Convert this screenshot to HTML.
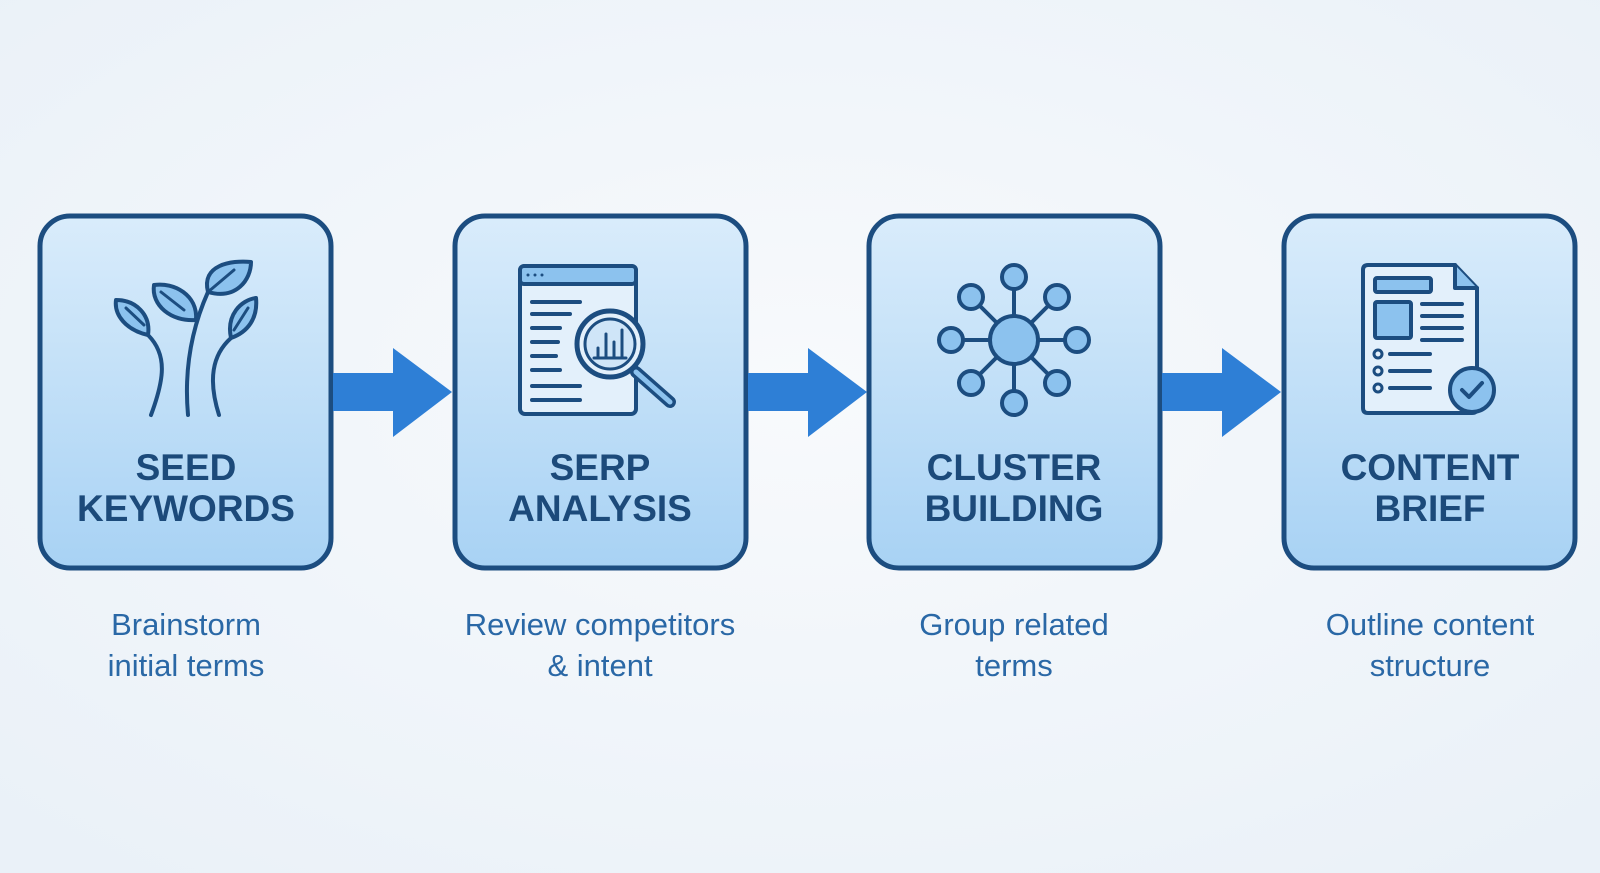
<!DOCTYPE html>
<html><head><meta charset="utf-8"><style>
html,body{margin:0;padding:0;width:1600px;height:873px;overflow:hidden;background:#f1f5fa}
svg{display:block}
text{font-family:"Liberation Sans",sans-serif}
</style></head><body>
<svg width="1600" height="873" viewBox="0 0 1600 873">
<defs>
<linearGradient id="g" x1="0" y1="0" x2="0" y2="1">
<stop offset="0" stop-color="#d9ecfb"/><stop offset="1" stop-color="#a8d2f4"/></linearGradient>
<radialGradient id="bg" cx="0.5" cy="0.45" r="0.7"><stop offset="0" stop-color="#f8fafc"/><stop offset="1" stop-color="#eaf1f8"/></radialGradient>
</defs>
<rect width="1600" height="873" fill="url(#bg)"/>
<g stroke="#1c4d80" stroke-width="5" fill="url(#g)">
<rect x="40" y="216" width="291" height="352" rx="30"/>
<rect x="455" y="216" width="291" height="352" rx="30"/>
<rect x="869" y="216" width="291" height="352" rx="30"/>
<rect x="1284" y="216" width="291" height="352" rx="30"/>
</g>
<g fill="#2e7fd6">
<path d="M333,373 H393 V348 L452,392 L393,437 V411 H333Z"/>
<path d="M748,373 H808 V348 L867,392 L808,437 V411 H748Z"/>
<path d="M1162,373 H1222 V348 L1281,392 L1222,437 V411 H1162Z"/>
</g>
<g stroke="#1c4d80" stroke-width="4" fill="#8cc2ee" stroke-linecap="round" stroke-linejoin="round">
<!-- plant -->
<g transform="translate(186,340)">
<path d="M2,75 C-2,30 5,-10 22,-48" fill="none"/>
<path d="M-35,75 C-22,40 -18,15 -38,-5" fill="none"/>
<path d="M33,75 C22,40 26,15 45,-2" fill="none"/>
<path d="M22,-48 C15,-75 45,-80 65,-78 C65,-60 50,-40 22,-48Z"/>
<path d="M10,-20 C-15,-18 -35,-35 -32,-55 C-12,-58 12,-45 10,-20Z"/>
<path d="M-38,-5 C-60,-10 -72,-25 -70,-40 C-50,-40 -35,-25 -38,-5Z"/>
<path d="M45,-2 C40,-25 55,-40 70,-42 C72,-22 62,-8 45,-2Z"/>
<path d="M22,-48 L48,-70 M-2,-30 L-25,-48 M-42,-15 L-60,-32 M48,-10 L62,-32" fill="none" stroke-width="3"/>
</g>
<!-- serp -->
<g transform="translate(600,340)">
<rect x="-80" y="-74" width="116" height="148" rx="5" fill="#e3f0fb"/>
<rect x="-80" y="-74" width="116" height="18" rx="4" fill="#8cc2ee"/>
<g stroke-width="4">
<path d="M-68,-38 H-20 M-68,-26 H-30 M-68,-12 H-40 M-68,2 H-42 M-68,16 H-44 M-68,30 H-40 M-68,46 H-20 M-68,60 H-20" fill="none"/>
</g>
<path d="M36,32 L70,62" stroke-width="12"/>
<path d="M36,32 L70,62" stroke="#8cc2ee" stroke-width="5"/>
<circle cx="10" cy="4" r="33" fill="#e3f0fb" stroke-width="5"/>
<circle cx="10" cy="4" r="25" fill="#cfe5f8" stroke-width="3"/>
<path d="M-6,18 H26 M-2,18 V8 M6,18 V-6 M14,18 V2 M22,18 V-10" fill="none" stroke-width="3"/>
<circle cx="-72" cy="-65" r="1.5" fill="#1c4d80" stroke="none"/>
<circle cx="-65" cy="-65" r="1.5" fill="#1c4d80" stroke="none"/>
<circle cx="-58" cy="-65" r="1.5" fill="#1c4d80" stroke="none"/>
</g>
<!-- cluster -->
<g transform="translate(1014,340)">
<path d="M0,0 L0,-62 M0,0 L0,62 M0,0 L-62,0 M0,0 L62,0 M0,0 L-42,-42 M0,0 L42,42 M0,0 L-42,42 M0,0 L42,-42" fill="none"/>
<circle r="24"/>
<circle cx="0" cy="-63" r="12"/><circle cx="0" cy="63" r="12"/>
<circle cx="-63" cy="0" r="12"/><circle cx="63" cy="0" r="12"/>
<circle cx="-43" cy="-43" r="12"/><circle cx="43" cy="43" r="12"/>
<circle cx="-43" cy="43" r="12"/><circle cx="43" cy="-43" r="12"/>
</g>
<!-- doc -->
<g transform="translate(1430,340)">
<path d="M-67,-70 Q-67,-75 -62,-75 H25 L47,-52 V68 Q47,73 42,73 H-62 Q-67,73 -67,68Z" fill="#e3f0fb"/>
<path d="M25,-75 V-52 H47" fill="#8cc2ee"/>
<rect x="-55" y="-62" width="56" height="14" rx="2"/>
<rect x="-55" y="-38" width="36" height="36" rx="2"/>
<path d="M-8,-36 H32 M-8,-24 H32 M-8,-12 H32 M-8,0 H32 M-40,14 H0 M-40,31 H0 M-40,48 H0" fill="none"/>
<circle cx="-52" cy="14" r="4" fill="none" stroke-width="3"/>
<circle cx="-52" cy="31" r="4" fill="none" stroke-width="3"/>
<circle cx="-52" cy="48" r="4" fill="none" stroke-width="3"/>
<circle cx="42" cy="50" r="22"/>
<path d="M32,50 L39,57 L52,43" fill="none"/>
</g>
</g>
<g font-weight="bold" font-size="37" fill="#1c4a7a" text-anchor="middle">
<text x="186" y="480">SEED</text><text x="186" y="521">KEYWORDS</text>
<text x="600" y="480">SERP</text><text x="600" y="521">ANALYSIS</text>
<text x="1014" y="480">CLUSTER</text><text x="1014" y="521">BUILDING</text>
<text x="1430" y="480">CONTENT</text><text x="1430" y="521">BRIEF</text>
</g>
<g font-size="31" fill="#2a68a6" text-anchor="middle">
<text x="186" y="635">Brainstorm</text><text x="186" y="676">initial terms</text>
<text x="600" y="635">Review competitors</text><text x="600" y="676">&amp; intent</text>
<text x="1014" y="635">Group related</text><text x="1014" y="676">terms</text>
<text x="1430" y="635">Outline content</text><text x="1430" y="676">structure</text>
</g>
</svg>
</body></html>
